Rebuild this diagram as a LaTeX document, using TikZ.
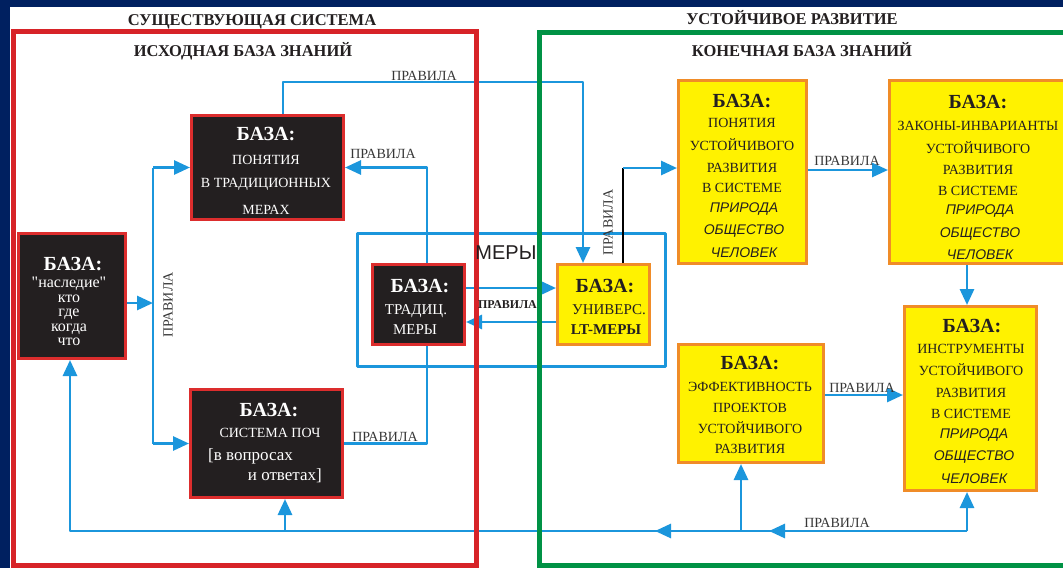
\documentclass[tikz,border=0pt]{standalone}
\usepackage{fontspec}
\setmainfont{Liberation Serif}
\newfontfamily\asans{Liberation Sans}
\newfontfamily\plainserif{Liberation Serif}[Ligatures=TeXOff]
\usetikzlibrary{arrows.meta,calc}
\definecolor{navy}{RGB}{0,32,96}
\definecolor{fred}{RGB}{215,35,40}
\definecolor{fgreen}{RGB}{0,146,69}
\definecolor{lblue}{RGB}{27,150,220}
\definecolor{bxblack}{RGB}{35,31,32}
\definecolor{bxred}{RGB}{220,45,45}
\definecolor{bxyellow}{RGB}{255,242,0}
\definecolor{bxorange}{RGB}{240,140,40}
\definecolor{ink}{RGB}{35,31,32}
\definecolor{labink}{RGB}{55,55,55}
\begin{document}
\begin{tikzpicture}[x=1pt,y=-1pt,inner sep=0pt,
  bl/.style={draw=lblue,line width=2.8pt,line join=round},
  bla/.style={bl,-{Triangle[length=16pt,width=14pt]}},
  blk/.style={draw=black,line width=2.2pt},
  blackbox/.style={draw=bxred,fill=bxblack,line width=3pt,inner sep=0pt,rectangle},
  yelbox/.style={draw=bxorange,fill=bxyellow,line width=3pt,inner sep=0pt,rectangle},
  bhead/.style={anchor=base,font=\fontsize{20}{20}\selectfont\bfseries},
  btxt/.style={anchor=base,font=\fontsize{14}{14}\selectfont},
  bsmall/.style={anchor=base,font=\fontsize{15}{15}\selectfont},
  blow/.style={anchor=base,font=\plainserif\fontsize{17}{17}\selectfont},
  blowt/.style={anchor=base,font=\plainserif\fontsize{16}{16}\selectfont},
  bital/.style={anchor=base,text=ink,font=\asans\itshape\fontsize{14}{14}\selectfont},
  rlab/.style={anchor=base,text=labink,font=\fontsize{14}{14}\selectfont},
  ttltxt/.style={anchor=base,text=ink,font=\fontsize{16.5}{16.5}\selectfont\bfseries}
]
\useasboundingbox (0,0) rectangle (1063,568);
\clip (0,0) rectangle (1063,568);
\fill[navy] (0,0) rectangle (1063,568);
\fill[white] (10,7) rectangle (1063,568);

% MERY frame
\node[bl,rectangle,minimum width=308,minimum height=133] (mery) at (511.5,300) {};

% boxes
\node[blackbox,minimum width=107,minimum height=125] (b1) at (72,296) {};
\node[blackbox,minimum width=152,minimum height=104] (b2) at (267.5,167.5) {};
\node[blackbox,minimum width=152,minimum height=108] (b3) at (266.5,443.5) {};
\node[blackbox,minimum width=92,minimum height=80] (b4) at (418.5,304.5) {};
\node[yelbox,minimum width=92,minimum height=80] (b5) at (603.5,304.5) {};
\node[yelbox,minimum width=128,minimum height=183] (b6) at (742.5,172) {};
\node[yelbox,minimum width=177,minimum height=183] (b7) at (978,172) {};
\node[yelbox,minimum width=132,minimum height=184] (b8) at (970.5,398.5) {};
\node[yelbox,minimum width=145,minimum height=118] (b9) at (751,403.5) {};

% box 1
\node[bhead,text=white] (b1h) at (73,270) {БАЗА:};
\foreach \t/\y [count=\i] in {"наследие"/287,кто/302,где/316.5,когда/331,что/345}
  \node[blowt,text=white] (b1l\i) at (69,\y) {\t};
% box 2
\node[bhead,text=white] (b2h) at (266,140) {БАЗА:};
\foreach \t/\y [count=\i] in {ПОНЯТИЯ/164,В ТРАДИЦИОННЫХ/187,МЕРАХ/214}
  \node[btxt,text=white] (b2l\i) at (266,\y) {\t};
% box 3
\node[bhead,text=white] (b3h) at (269,416) {БАЗА:};
\node[btxt,text=white] (b3l1) at (270,437) {СИСТЕМА ПОЧ};
\node[blow,text=white,anchor=base west] (b3l2) at (208,460) {[в вопросах};
\node[blow,text=white,anchor=base east] (b3l3) at (322,480) {и ответах]};
% box 4
\node[bhead,text=white] (b4h) at (420,292) {БАЗА:};
\node[bsmall,text=white] (b4l1) at (416,314) {ТРАДИЦ.};
\node[bsmall,text=white] (b4l2) at (415,334) {МЕРЫ};
% box 5
\node[bhead,text=ink] (b5h) at (605,292) {БАЗА:};
\node[bsmall,text=ink] (b5l1) at (609,314) {УНИВЕРС.};
\node[bsmall,text=ink,font=\fontsize{15}{15}\selectfont\bfseries] (b5l2) at (606,334) {LT-МЕРЫ};
% box 6
\node[bhead,text=ink] (b6h) at (742,107) {БАЗА:};
\foreach \t/\y [count=\i] in {ПОНЯТИЯ/127,УСТОЙЧИВОГО/150,РАЗВИТИЯ/172,В СИСТЕМЕ/192}
  \node[btxt,text=ink] (b6l\i) at (742,\y) {\t};
\foreach \t/\y [count=\i] in {ПРИРОДА/212,ОБЩЕСТВО/234,ЧЕЛОВЕК/257}
  \node[bital] (b6i\i) at (744,\y) {\t};
% box 7
\node[bhead,text=ink] (b7h) at (978,108) {БАЗА:};
\foreach \t/\y [count=\i] in {ЗАКОНЫ-ИНВАРИАНТЫ/130,УСТОЙЧИВОГО/153,РАЗВИТИЯ/174,В СИСТЕМЕ/195}
  \node[btxt,text=ink] (b7l\i) at (978,\y) {\t};
\foreach \t/\y [count=\i] in {ПРИРОДА/214,ОБЩЕСТВО/237,ЧЕЛОВЕК/259}
  \node[bital] (b7i\i) at (980,\y) {\t};
% box 8
\node[bhead,text=ink] (b8h) at (972,332) {БАЗА:};
\foreach \t/\y [count=\i] in {ИНСТРУМЕНТЫ/353,УСТОЙЧИВОГО/375,РАЗВИТИЯ/397,В СИСТЕМЕ/418}
  \node[btxt,text=ink] (b8l\i) at (971,\y) {\t};
\foreach \t/\y [count=\i] in {ПРИРОДА/438,ОБЩЕСТВО/460,ЧЕЛОВЕК/483}
  \node[bital] (b8i\i) at (974,\y) {\t};
% box 9
\node[bhead,text=ink] (b9h) at (750,369) {БАЗА:};
\foreach \t/\y [count=\i] in {ЭФФЕКТИВНОСТЬ/391,ПРОЕКТОВ/412,УСТОЙЧИВОГО/433,РАЗВИТИЯ/453}
  \node[btxt,text=ink] (b9l\i) at (750,\y) {\t};

% junction coordinates
\coordinate (v1) at (153,303);
\coordinate (j1) at (583,82);
\coordinate (j2) at (623,168);
\coordinate (jb8) at (967,531);
\coordinate (jb9) at (741,531);
\coordinate (jb3) at (285,531);
\coordinate (jb1) at (70,531);
\coordinate (ma1) at (769,531);
\coordinate (ma2) at (655,531);

% connectors
\draw[bla] ($(b1.east)+(0,7)$) -- (v1);
\draw[bl] (b2.west -| v1) -- (b3.west -| v1);
\draw[bla] (b2.west -| v1) -- (b2.west);
\draw[bla] (b3.west -| v1) -- (b3.west);
\draw[bla] ($(b2.north)+(15.5,0)$) |- (j1) -- (j1 |- b5.north);
\draw[bla] ($(b4.north)+(8.5,0)$) |- (b2.east);
\draw[bl] ($(b4.south)+(8.5,0)$) |- (b3.east);
\draw[bla] ($(b4.east)+(0,-16.5)$) -- ($(b5.west)+(0,-16.5)$);
\draw[bla] ($(b5.west)+(0,17.5)$) -- ($(b4.east)+(0,17.5)$);
\draw[blk] ($(b5.north)+(19.5,0)$) -- (j2);
\draw[bla] (j2) -- (j2 -| b6.west);
\draw[bla] ($(b6.east)+(0,-2)$) -- ($(b7.west)+(0,-2)$);
\draw[bla] ($(b7.south)+(-11,0)$) -- ($(b8.north)+(-3.5,0)$);
\draw[bla] ($(b9.east)+(0,-8.5)$) -- ($(b8.west)+(0,-3.5)$);
\draw[bla] (jb8) -- (jb8 |- b8.south);
\draw[bla] (jb8) -- (jb1) -- (jb1 |- b1.south);
\draw[bla] (jb8) -- (ma1);
\draw[bla] (jb9) -- (ma2);
\draw[bla] (jb9) -- (jb9 |- b9.south);
\draw[bla] (jb3) -- (jb3 |- b3.south);

% frames
\draw[fred,line width=5pt] (13,31.5) rectangle (476,565);
\draw[fgreen,line width=5pt] (1075,32) -- (539.5,32) -- (539.5,565.5) -- (1075,565.5);

% labels
\node[rlab] (l1) at (424,80) {ПРАВИЛА};
\node[rlab] (l2) at (383,158) {ПРАВИЛА};
\node[rlab] (l3) at (385,441) {ПРАВИЛА};
\node[anchor=base,text=ink,font=\fontsize{12}{12}\selectfont\bfseries] (l4) at (507.5,308) {ПРАВИЛА};
\node[rlab,anchor=center,rotate=90] (l5) at (608,222.5) {ПРАВИЛА};
\node[rlab,anchor=center,rotate=90] (l0) at (168,305) {ПРАВИЛА};
\node[rlab] (l6) at (847,165) {ПРАВИЛА};
\node[rlab] (l7) at (862,392) {ПРАВИЛА};
\node[rlab] (l8) at (837,527) {ПРАВИЛА};
\node[anchor=base,text=ink,font=\asans\fontsize{20}{20}\selectfont] (lm) at (506,259) {МЕРЫ};

% titles
\node[ttltxt] (t1) at (252,25) {СУЩЕСТВУЮЩАЯ СИСТЕМА};
\node[ttltxt] (t2) at (243,56) {ИСХОДНАЯ БАЗА ЗНАНИЙ};
\node[ttltxt] (t3) at (792,24) {УСТОЙЧИВОЕ РАЗВИТИЕ};
\node[ttltxt] (t4) at (802,56) {КОНЕЧНАЯ БАЗА ЗНАНИЙ};
\end{tikzpicture}
\end{document}
